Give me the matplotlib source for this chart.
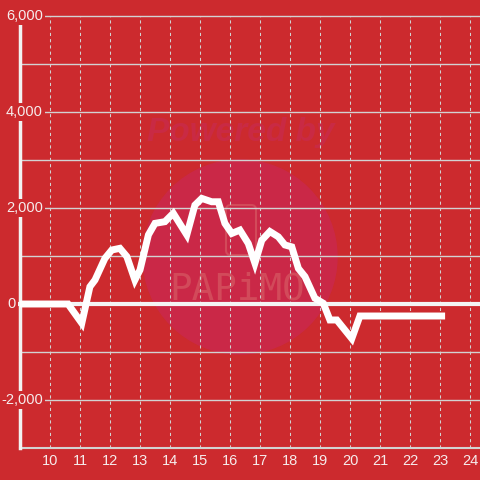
import matplotlib
matplotlib.use("Agg")
import matplotlib.pyplot as plt
from matplotlib.patches import Circle, FancyBboxPatch

# data (hour of day, value)
hours = [9.0, 10.6, 11.06, 11.33, 11.5, 11.83, 12.06, 12.33, 12.56, 12.83,
         13.0, 13.28, 13.5, 13.83, 14.11, 14.56, 14.83, 15.06, 15.39, 15.61,
         15.83, 16.06, 16.33, 16.61, 16.83, 17.06, 17.33, 17.61, 17.83, 18.06,
         18.28, 18.5, 18.83, 19.11, 19.33, 19.56, 20.06, 20.33, 23.17]
values = [0, 0, -400, 360, 500, 950, 1125, 1160, 990, 500,
          710, 1440, 1680, 1715, 1890, 1440, 2060, 2200, 2130, 2130,
          1680, 1470, 1540, 1260, 850, 1330, 1510, 1400, 1230, 1190,
          740, 570, 120, 15, -333, -333, -720, -250, -250]

x_ticks = list(range(10, 25))
y_ticks = [-2000, 0, 2000, 4000, 6000]
y_grid = list(range(-2000, 7000, 1000))

bg = '#CC2A2E'
grid_c = '#D2D2D2'
text_c = '#F6ECEC'

fig = plt.figure(figsize=(4.8, 4.8), dpi=100, facecolor=bg)
ax = fig.add_axes([0, 0, 1, 1])
ax.set_facecolor(bg)
ax.set_xlim(9 - 20 / 30, 9 + 460 / 30)
ax.set_ylim((304 - 480) / 0.048, 304 / 0.048)
ax.axis('off')

# watermark (axes is square, so a circle in axes coords stays round)
ax.add_patch(Circle((240 / 480, 1 - 257 / 480), 97 / 480, color='#CA2847',
                    transform=ax.transAxes, zorder=1))
ax.text(0.502, 1 - 133 / 480, 'Powered by', transform=ax.transAxes,
        ha='center', va='center', fontsize=24, fontweight='bold',
        style='italic', color='#C92A44', family='Liberation Sans', zorder=1)
ax.text(0.495, 1 - 289 / 480, 'PAPiMO', transform=ax.transAxes,
        ha='center', va='center', fontsize=27, color='#D24A5A',
        family='DejaVu Sans Mono', zorder=1.2)
ax.add_patch(FancyBboxPatch((226 / 480, 1 - 255 / 480), 30 / 480, 50 / 480,
                            boxstyle='round,pad=0,rounding_size=0.01',
                            transform=ax.transAxes, fill=False,
                            edgecolor='#D24A5A', lw=1.5, zorder=1.2))

# grid
for v in y_grid:
    if v == 0:
        continue
    ax.plot([9, 25], [v, v], color=grid_c, lw=1, zorder=2)
for h in x_ticks:
    ax.plot([h, h], [-3000, 6000], color=grid_c, lw=0.75,
            linestyle=(0, (3, 3)), zorder=2)

# axes
ax.plot([9, 25], [-3000, -3000], color=grid_c, lw=1.5, zorder=3)
ax.plot([9, 9], [-3000, 6000], color='#F2F2F2', lw=2.5, zorder=3)
ax.plot([9, 25], [0, 0], color='#F4F4F4', lw=3, zorder=3)

# series
ax.plot(hours, values, color='white', lw=5, solid_joinstyle='miter',
        solid_capstyle='butt', zorder=5)

# tick labels
for v in y_ticks:
    lab = f'{v:,}'
    px = 43 if v != 0 else 16
    ax.text(px / 480, 1 - (304 - v * 0.048) / 480, lab,
            transform=ax.transAxes, ha='right', va='center', fontsize=10.5,
            color=text_c, family='Liberation Sans', zorder=4,
            bbox=dict(boxstyle='square,pad=0.15', fc=bg, ec='none'))
for h in x_ticks:
    ax.text(h, -3000 - 13 / 0.048, str(h), ha='center', va='center',
            fontsize=10.5, color=text_c, family='Liberation Sans', zorder=4)

fig.savefig('out.png', dpi=100, facecolor=bg)
